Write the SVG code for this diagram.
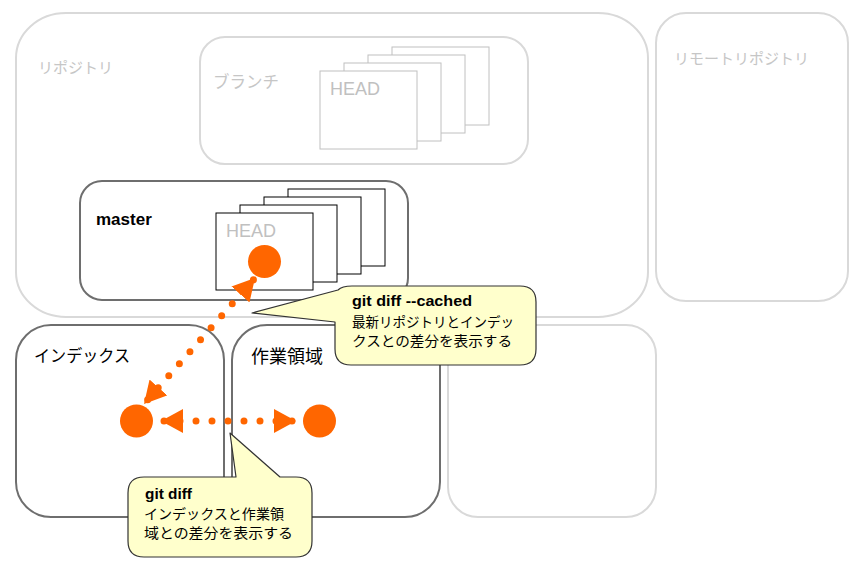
<svg xmlns="http://www.w3.org/2000/svg" width="861" height="571" viewBox="0 0 861 571">
  <defs>
    <style>
      text { font-family: "Liberation Sans", "Noto Sans CJK JP", sans-serif; }
      .faint { fill: #ffffff; stroke: #d9d9d9; stroke-width: 2; }
      .area { fill: #ffffff; stroke: #6e6e6e; stroke-width: 2; }
      .ghost { fill: #ffffff; stroke: #c0c0c0; stroke-width: 1; }
      .sheet { fill: #ffffff; stroke: #000000; stroke-width: 1; }
      .faint-label { fill: #c6c6c6; }
      .label { fill: #000000; }
      .head { fill: #c0c0c0; font-size: 18px; }
      .dot { fill: #ff6600; }
      .callout { fill: #ffffcc; stroke: #333333; stroke-width: 1.2; stroke-linejoin: round; }
      .note-title { font-size: 15px; font-weight: bold; fill: #000000; }
      .note-text { font-size: 14px; fill: #000000; }
      .link { fill: none; stroke: #ff6600; stroke-width: 7; stroke-linecap: round; stroke-dasharray: 0 16; }
    </style>
    <marker id="tri" markerUnits="userSpaceOnUse" viewBox="0 0 22 24" markerWidth="22" markerHeight="24" refX="22" refY="12" orient="auto-start-reverse">
      <path d="M0,0 L22,12 L0,24 Z" fill="#ff6600"/>
    </marker>
  </defs>

  <rect width="861" height="571" fill="#ffffff"/>

  <!-- local repository -->
  <g id="repository">
    <rect class="faint" x="16" y="13" width="632" height="304" rx="50" ry="45"/>
    <text class="faint-label" x="38" y="73" font-size="15">リポジトリ</text>
  </g>

  <!-- remote repository -->
  <g id="remote">
    <rect class="faint" x="656" y="13" width="192" height="288" rx="30"/>
    <text class="faint-label" x="674" y="64" font-size="15">リモートリポジトリ</text>
  </g>

  <!-- branches -->
  <g id="branch">
    <rect class="faint" x="200" y="37" width="328" height="127" rx="25"/>
    <text class="faint-label" x="213" y="88" font-size="16.5">ブランチ</text>
    <rect class="ghost" x="392" y="47" width="97" height="78"/>
    <rect class="ghost" x="368" y="55" width="97" height="78"/>
    <rect class="ghost" x="344" y="63" width="97" height="78"/>
    <rect class="ghost" x="320" y="71" width="97" height="78"/>
    <text class="head" x="330" y="95">HEAD</text>
  </g>

  <!-- master branch -->
  <g id="master">
    <rect class="area" x="80" y="181" width="328" height="119" rx="22"/>
    <text class="label" x="96" y="225" font-size="17" font-weight="bold">master</text>
    <rect class="sheet" x="288" y="189" width="97" height="77"/>
    <rect class="sheet" x="264" y="197" width="97" height="77"/>
    <rect class="sheet" x="240" y="205" width="97" height="77"/>
    <rect class="sheet" x="216" y="213" width="97" height="77"/>
    <text class="head" x="226" y="237">HEAD</text>
    <circle class="dot" cx="264.5" cy="261.5" r="16.5"/>
  </g>

  <!-- index -->
  <g id="index">
    <rect class="area" x="16" y="325" width="208" height="192" rx="35"/>
    <text class="label" x="34" y="362" font-size="17" textLength="96" lengthAdjust="spacingAndGlyphs">インデックス</text>
    <circle class="dot" cx="136.5" cy="421" r="16.5"/>
  </g>

  <!-- working tree -->
  <g id="worktree">
    <rect class="area" x="232" y="325" width="208" height="192" rx="35"/>
    <text class="label" x="251" y="363" font-size="18">作業領域</text>
    <circle class="dot" cx="319.5" cy="421" r="16.5"/>
  </g>

  <!-- unused area -->
  <g id="spare">
    <rect class="faint" x="448" y="325" width="208" height="192" rx="30"/>
  </g>

  <!-- connectors -->
  <g id="connectors">
    <path class="link" d="M144,404 L255,278" stroke-dashoffset="10.5" marker-start="url(#tri)" marker-end="url(#tri)"/>
    <path class="link" d="M161,421 L296,421" stroke-dashoffset="13" marker-start="url(#tri)" marker-end="url(#tri)"/>
  </g>

  <!-- note: diff against the repository (cached) -->
  <g id="note-cached">
    <path class="callout" d="M252,313 L338,290 Q342,286 352,286 H520 Q536,286 536,302 V349 Q536,365 520,365 H351 Q335,365 335,349 V322 Z"/>
    <text class="note-title" x="352" y="306" textLength="120" lengthAdjust="spacingAndGlyphs">git diff --cached</text>
    <text class="note-text" x="352" y="327" textLength="162" lengthAdjust="spacingAndGlyphs">最新リポジトリとインデッ</text>
    <text class="note-text" x="352" y="346" textLength="160" lengthAdjust="spacingAndGlyphs">クスとの差分を表示する</text>
  </g>

  <!-- note: diff against the working tree -->
  <g id="note-diff">
    <path class="callout" d="M230,433 L280,477 H296 Q312,477 312,493 V541 Q312,557 296,557 H144 Q128,557 128,541 V493 Q128,477 144,477 H236 Z"/>
    <text class="note-title" x="145" y="499" textLength="47" lengthAdjust="spacingAndGlyphs">git diff</text>
    <text class="note-text" x="144" y="519" textLength="140" lengthAdjust="spacingAndGlyphs">インデックスと作業領</text>
    <text class="note-text" x="144" y="538" textLength="149" lengthAdjust="spacingAndGlyphs">域との差分を表示する</text>
  </g>
</svg>
